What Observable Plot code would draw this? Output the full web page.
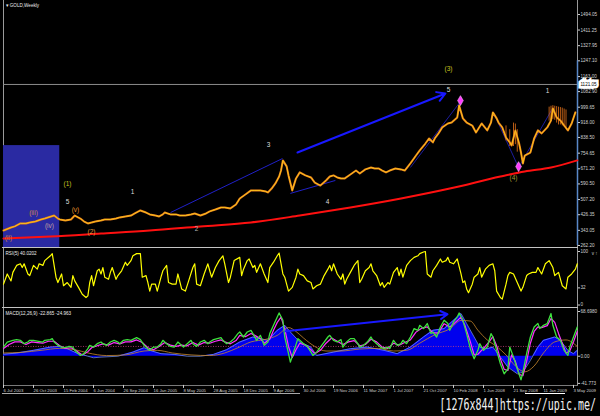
<!DOCTYPE html>
<html><head><meta charset="utf-8">
<script src="https://cdn.jsdelivr.net/npm/d3@7"></script>
<script src="https://cdn.jsdelivr.net/npm/@observablehq/plot@0.6"></script>
<style>
html,body{margin:0;padding:0;background:#000;}
#chart{position:relative;width:600px;height:416px;background:#000;overflow:hidden;font-family:"Liberation Sans",sans-serif;}
.ln{position:absolute;}
#wm{position:absolute;right:4px;top:396px;font:10px "DejaVu Sans Mono",monospace;color:#f2f2f2;transform:scaleY(1.5);transform-origin:top right;white-space:nowrap;}
</style></head><body><div id="chart"></div>
<script>
// ---------- DATA (week index counted from 6 Jul 2003, one bar per week) ----------
const priceWeek = [0,4,6,9,12,14,17,20,22,27,29,30,33,36,38,41,43,45,47,49,52,54,57,60,62,65,68,70,73,76,78,81,83,85,86,89,92,94,97,100,102,105,108,110,113,116,118,121,124,126,129,132,134,137,140,141,143,145,147,148,149,151,152,154,156,158,161,164,166,169,172,174,176,178,180,182,185,188,190,193,196,198,200,202,204,206,209,212,214,217,220,222,225,227,229,230,232,234,237,239,242,243,245,246,247,250,252,255,258,260,261,263,264,266,268,270,271,273,275,276,277,278,281,283,285,287,290,292,293,295,297,299,301,303,305];
const priceClose = [342,358,364,380,380,385,390,401,406,422,406,401,396,401,422,406,390,380,385,390,396,401,401,406,412,417,422,433,449,438,428,422,417,428,438,428,428,422,422,428,433,422,433,444,454,465,465,460,481,513,534,556,556,556,550,545,566,593,630,662,716,684,636,556,620,652,636,625,598,582,609,630,636,625,620,620,641,662,646,668,678,673,673,662,652,662,673,668,662,700,742,769,806,833,812,833,860,892,913,918,945,1009,940,929,918,902,865,913,876,918,972,940,918,892,838,812,796,876,806,758,700,742,758,833,876,860,892,929,993,945,929,902,876,913,972];

const wickWeek = [268,270,272,273,274,291,292,293,294,295,296,297,298,299,300];
const wickHigh = [900,880,915,910,880,1000,1005,1008,1005,1003,1000,998,995,990,985];
const wickLow  = [820,790,790,800,760,925,930,935,930,915,905,905,900,895,890];

const maWeek = [0,25,52,78,105,132,158,185,212,238,265,278,292,306];
const maValue = [300,310,326,342,364,385,422,465,513,566,630,657,678,716];

const priceTicks = [262.20,343.05,426.35,507.20,590.50,671.20,754.65,838.50,918.00,999.65,1082.90,1163.00,1247.10,1327.95,1411.25,1494.05];
const hLinePrice = 1121.05;

const rsiWeek = [0,2,4,5,7,9,10,11,13,14,16,18,19,21,22,25,26,28,29,31,32,34,36,37,38,40,42,44,45,46,47,48,50,51,52,53,54,56,57,58,60,61,63,65,66,68,69,71,73,74,76,77,78,79,81,82,84,85,87,88,90,92,93,95,97,99,101,102,103,105,107,109,110,111,113,115,117,118,120,121,123,126,127,128,130,131,133,134,135,137,139,141,142,144,146,147,149,150,152,154,156,157,158,160,162,164,165,167,169,171,173,174,175,176,178,180,181,182,183,185,187,189,190,191,193,195,196,197,199,201,202,203,205,206,208,210,211,212,213,215,217,219,221,222,224,225,226,228,229,231,233,234,236,237,238,240,242,244,245,246,247,248,250,251,253,254,255,257,259,261,262,263,265,266,268,269,270,272,274,276,277,279,280,282,284,285,287,289,291,293,294,296,298,300,301,303,305,306];
const rsiValue = [39,58,45,61,74,77,70,77,58,55,74,67,77,74,83,92,96,52,42,58,36,42,33,55,45,33,20,14,17,42,55,36,64,67,58,70,52,48,61,70,48,55,64,80,74,83,92,96,96,52,55,42,26,39,39,26,52,64,74,42,39,39,58,30,26,48,70,77,39,36,58,77,64,52,70,83,92,77,42,52,83,89,55,67,83,86,70,74,61,77,58,42,70,80,92,97,58,52,26,33,52,67,58,55,45,42,30,36,39,55,67,74,64,77,58,48,58,39,48,61,74,83,42,48,64,70,77,64,55,36,42,33,42,39,61,70,55,67,52,74,83,89,92,96,99,100,58,52,64,74,86,80,83,89,80,77,86,58,42,45,30,23,39,52,58,70,52,67,74,77,64,26,14,11,39,55,61,58,42,26,33,55,58,61,61,70,58,77,83,70,55,61,36,30,52,58,67,77];
const rsiTicks = [0,32,100];

const macdWeek = [0,2,5,7,9,11,13,14,16,18,21,22,25,26,27,29,31,33,35,37,38,41,43,45,46,48,50,52,53,55,57,59,61,62,64,66,68,69,71,73,75,77,78,80,82,84,85,87,89,91,93,94,96,98,100,101,103,105,107,109,110,112,114,116,117,119,121,123,125,126,128,130,132,133,135,137,139,141,142,144,146,147,149,150,152,153,155,157,158,160,162,164,165,167,169,171,173,174,176,178,180,181,183,185,187,189,190,192,194,196,197,199,201,203,205,206,208,210,212,213,215,217,219,221,222,224,226,228,229,231,233,235,237,238,240,242,243,245,247,249,251,253,254,256,258,260,261,263,265,267,269,270,272,274,276,277,279,281,283,285,286,288,290,292,293,295,297,299,301,302,304,306];
const macdFast = [14,21.8,24.4,25.5,24.4,19.3,21.8,24.4,24.4,23.3,21.8,24.4,25.5,27,21.8,16.7,14,13.1,15.1,14,9,1.2,3.9,11.6,16.7,14,19.3,21.8,19.3,16.7,21.8,24.4,21.8,19.3,24.4,25.5,24.4,25.9,28.5,25.5,16.7,11.6,9,14,14,19.3,24.4,19.3,15.1,14,21.8,19.3,14,19.3,24.4,19.3,15.1,21.8,24.4,19.3,21.8,25.5,27,28.5,24.4,19.3,21.8,27,34.7,37.2,29.5,37.2,39.8,34.7,24.4,32.1,16.7,21.8,34.7,47.5,60.3,66.5,55.2,29.5,3.9,-9.1,9,27,24.4,19.3,15.1,6.3,1.2,6.3,14,21.8,29.5,32.1,24.4,21.8,25.5,14,21.8,27,27,19.3,14,16.7,21.8,29.5,24.4,19.3,14,11.6,14,11.6,24.4,16.7,19.3,24.4,19.3,29.5,42.4,39.8,47.5,42.4,50.2,34.7,37.2,29.5,44.9,55.2,50.2,39.8,52.6,60.3,66.5,55.2,34.7,11.6,-3.9,9,19.3,9,14,34.7,29.5,9,-11.6,-27,-19.3,14,-1.4,-19.3,-36.3,-24.5,3.9,29.5,44.9,50.2,42.4,47.5,50.2,65.6,47.5,29.5,24.4,9,1.2,14,29.5,44.9];

const magWeek = [0,3,6,9,12,15,18,21,24,27,30,33,36,39,42,45,47,50,53,56,59,62,65,68,71,74,77,80,83,86,89,92,95,98,101,104,107,110,113,116,118,121,124,126,129,132,134,137,139,142,144,146,148,150,152,154,156,158,161,164,166,169,172,175,178,181,184,187,190,193,196,199,202,205,208,211,214,217,220,223,226,229,232,235,238,241,244,246,249,251,253,256,259,261,263,265,267,269,271,273,275,277,279,281,283,285,287,290,292,294,296,298,300,302,304,306];
const magValue = [12,18,22,22,18,22,21,20,23,23,16,12,13,8,2,7,13,16,19,17,21,19,22,22,25,21,13,10,15,21,17,15,17,16,21,17,21,20,23,25,22,19,24,32,30,35,32,27,20,26,40,52,60,42,15,-2,10,20,17,10,4,9,20,28,23,18,22,24,16,18,26,22,14,12,20,17,21,25,37,43,45,36,36,50,45,52,60,48,22,2,3,12,22,30,16,-4,-20,-22,2,-8,-28,-30,-8,20,38,45,44,47,58,52,35,20,5,8,22,38];

const histWeek = [0,7,16,25,30,34,39,45,48,52,61,69,75,78,84,91,98,105,112,119,126,133,141,146,150,153,158,164,167,176,185,194,203,210,217,224,229,235,240,244,247,251,254,258,261,265,269,274,277,281,285,288,294,297,301,304,306];
const histValue = [3,4.8,9,14,15.1,11.6,4.8,0,-2.4,-1.4,0,6.3,13.1,9,3.9,2.8,0,0,2.8,10,21.8,29.5,24.4,39.8,47.5,37.2,21.8,14,1.2,6.3,11.6,14,9,3.9,14,29.5,39.8,42.4,55.2,65.6,50.2,29.5,14,11.6,14,-1.4,-16.8,-27,-24.5,-6.5,14,24.4,29.5,24.4,9,3.9,9];

const sigWeek = [0,10,20,30,38,45,55,65,75,82,90,100,110,118,125,132,140,146,152,156,160,166,172,180,190,200,208,215,222,230,238,244,249,253,258,263,268,273,278,283,288,294,300,306];
const sigValue = [5,6,9,12,10,5,1,2,8,9,5,2,1,5,13,22,26,32,44,38,28,15,8,8,11,12,8,9,20,33,42,55,54,40,25,15,2,-15,-24,-15,5,22,25,15];

const macdTicks = [-41.773, 0, 68.698];
const macdTickLabels = ["-41.773", "0.00", "68.6980"];
const macdLevel = 15;

const dateTickWeeks = [0,16,32,48,64,80,96,112,128,144,160,176,192,208,224,240,256,272,288,304];
const dateTickLabels = ["6 Jul 2003","26 Oct 2003","15 Feb 2004","6 Jun 2004","26 Sep 2004","16 Jan 2005","8 May 2005","28 Aug 2005","18 Dec 2005","9 Apr 2006","30 Jul 2006","19 Nov 2006","11 Mar 2007","1 Jul 2007","21 Oct 2007","10 Feb 2008","1 Jun 2008","21 Sep 2008","11 Jan 2009","3 May 2009"];

const waveText  = ["(3)","5","1","(4)","3","4","1","2","(1)","5","(2)","(v)","(iii)","(iv)","(ii)"];
const waveWeek  = [237.3,237.3,290.1,272,141.3,172.8,68.8,102.9,34.1,34.1,46.9,38.4,16,24.5,2.7];
const wavePrice = [1206,1094,1084,620,801,497,550,348,593,492,332,454,438,364,305];
const waveColor = ["#c8c020","#dcdcdc","#dcdcdc","#a09a30","#dcdcdc","#dcdcdc","#dcdcdc","#b0b0b0","#c8c020","#dcdcdc","#e09a3a","#e0902a","#d08850","#c0a0a0","#d08040"];

const boxWeeks = [0, 30];
const boxPrices = [251.5, 795];

const thickArrow = {w1: 156.8, p1: 758, w2: 235.7, p2: 1073};
const thinTrends = [{w1: 89.1, p1: 438, w2: 148.8, p2: 726}, {w1: 153, p1: 540, w2: 177, p2: 609}];
const zigzags = [{w1: 217, p1: 678, w2: 243.7, p2: 1030}, {w1: 261.3, p1: 972, w2: 274.7, p2: 678}, {w1: 274.7, p1: 678, w2: 292.8, p2: 993}];
const pivotWeek = [243.7, 274.7];
const pivotPrice = [1035, 683];
const macdArrow = {w1: 150.4, v1: 38.3, w2: 236.8, v2: 64.5};

// ---------- BUILD ----------
const zip = (a, b) => a.map((w, i) => ({w, v: b[i]}));
const price = zip(priceWeek, priceClose);
const ma = zip(maWeek, maValue);
const rsi = zip(rsiWeek, rsiValue);
const fast = zip(macdWeek, macdFast);
const mag = zip(magWeek, magValue);
const hist = zip(histWeek, histValue);
const sig = zip(sigWeek, sigValue);
const wicks = wickWeek.map((w, i) => ({w, hi: wickHigh[i], lo: wickLow[i]}));
const waves = waveText.map((t, i) => ({t, w: waveWeek[i], p: wavePrice[i], c: waveColor[i]}));
const pivots = zip(pivotWeek, pivotPrice);
const labelMap = new Map(dateTickWeeks.map((w, i) => [w, dateTickLabels[i]]));

const xDomain = [0, 306.13];
const baseStyle = {background: "transparent", color: "#d0d0d0", overflow: "visible", fontFamily: "Liberation Sans, Arial, sans-serif"};
const FS = 4.6;
const chart = document.getElementById("chart");
function place(el, top) { el.style.position = "absolute"; el.style.left = "0px"; el.style.top = top + "px"; chart.append(el); }
function line(l, t, w, h, c) { const d = document.createElement("div"); d.className = "ln"; Object.assign(d.style, {left: l + "px", top: t + "px", width: w + "px", height: h + "px", background: c}); chart.append(d); }

// frame decorations
line(3, 0, 1, 385, "#9a9a9a");
line(577, 0, 1, 385, "#9a9a9a");
line(2, 246.5, 576, 1.6, "#c4c4c4");
line(2, 306.5, 576, 1.6, "#c4c4c4");
line(3, 384.5, 575, 1, "#7a7a7a");
line(2, 392.5, 298, 1.6, "#a8a8a8");
line(525, 392.5, 40, 1.6, "#ffffff");

// price panel
place(Plot.plot({
  width: 600, height: 247, marginLeft: 3, marginRight: 23, marginTop: 0, marginBottom: 0,
  style: baseStyle,
  x: {domain: xDomain, axis: null},
  y: {domain: [251.5, 1568.8], axis: null},
  color: {type: "identity"},
  marks: [
    Plot.rect([0], {x1: () => boxWeeks[0], x2: () => boxWeeks[1], y1: () => boxPrices[0], y2: () => boxPrices[1], fill: "#2a2aa2"}),
    Plot.ruleY([hLinePrice], {stroke: "#8c8c8c", strokeWidth: 1}),
    Plot.ruleX([xDomain[1]], {y1: priceTicks[0], y2: priceTicks[12], stroke: "#5a88c8", strokeWidth: 1.5}),
    Plot.line(ma, {x: "w", y: "v", stroke: "#ff1010", strokeWidth: 2, curve: "monotone-x"}),
    Plot.link(thinTrends, {x1: "w1", y1: "p1", x2: "w2", y2: "p2", stroke: "#2020c8", strokeWidth: 1}),
    Plot.link(zigzags, {x1: "w1", y1: "p1", x2: "w2", y2: "p2", stroke: "#1c1c9c", strokeWidth: 1}),
    Plot.arrow([thickArrow], {x1: "w1", y1: "p1", x2: "w2", y2: "p2", stroke: "#1818ff", strokeWidth: 2, headLength: 7}),
    Plot.ruleX(wicks, {x: "w", y1: "lo", y2: "hi", stroke: "#e8741a", strokeWidth: 0.8}),
    Plot.line(price, {x: "w", y: "v", stroke: "#e47a1c", strokeWidth: 2}),
    Plot.line(price, {x: "w", y: "v", stroke: "#ffd21a", strokeWidth: 0.8}),
    Plot.dot(pivots, {x: "w", y: "v", symbol: "diamond", r: 3, fill: "#ff3cff", stroke: "#ffb0ff", strokeWidth: 0.6}),
    Plot.text(waves, {x: "w", y: "p", text: "t", fill: "c", fontSize: 6.5}),
    Plot.axisY({anchor: "right", ticks: priceTicks, tickFormat: d => d.toFixed(2), tickSize: 2, tickPadding: 1, fontSize: FS, color: "#d0d0d0"}),
    Plot.text([hLinePrice], {y: d => d, frameAnchor: "right", dx: 11, text: d => d.toFixed(2), fill: "#000", stroke: "#fff", strokeWidth: 5, strokeLinejoin: "miter", fontSize: FS, textAnchor: "middle"}),
    Plot.text(["\u25BE GOLD,Weekly"], {frameAnchor: "top-left", dx: 2, dy: 3, textAnchor: "start", lineAnchor: "top", fontSize: FS, fill: "#ececec"})
  ]
}), 0);

// RSI panel
place(Plot.plot({
  width: 600, height: 58, marginLeft: 3, marginRight: 23, marginTop: 3, marginBottom: 1.5,
  style: baseStyle,
  x: {domain: xDomain, axis: null},
  y: {domain: [0, 100], axis: null},
  marks: [
    Plot.line(rsi, {x: "w", y: "v", stroke: "#ffff00", strokeWidth: 1.2}),
    Plot.axisY({anchor: "right", ticks: rsiTicks, tickSize: 2, tickPadding: 1, fontSize: FS, color: "#d0d0d0"}),
    Plot.text(["RSI(5) 40.0202"], {frameAnchor: "top-left", dx: 2, dy: 0, textAnchor: "start", lineAnchor: "top", fontSize: FS, fill: "#ececec"})
  ]
}), 248);

// MACD panel (with date axis)
place(Plot.plot({
  width: 600, height: 92, marginLeft: 3, marginRight: 23, marginTop: 3, marginBottom: 17.1,
  style: baseStyle,
  x: {domain: xDomain, axis: null},
  y: {domain: [macdTicks[0], macdTicks[2]], axis: null},
  marks: [
    Plot.areaY(hist, {x: "w", y: "v", fill: "#0000ee"}),
    Plot.line(hist, {x: "w", y: "v", stroke: "#7d9cff", strokeWidth: 0.7}),
    Plot.ruleY([macdLevel], {stroke: "#c8407a", strokeWidth: 0.8, strokeDasharray: "1,1.5"}),
    Plot.line(sig, {x: "w", y: "v", stroke: "#c8882c", strokeWidth: 0.8, curve: "monotone-x"}),
    Plot.line(mag, {x: "w", y: "v", stroke: "#ff30ff", strokeWidth: 1.2}),
    Plot.line(fast, {x: "w", y: "v", stroke: "#3ee03e", strokeWidth: 1.3}),
    Plot.arrow([macdArrow], {x1: "w1", y1: "v1", x2: "w2", y2: "v2", stroke: "#1818ff", strokeWidth: 2, headLength: 6}),
    Plot.axisY({anchor: "right", ticks: macdTicks, tickFormat: d => macdTickLabels[macdTicks.indexOf(d)], tickSize: 2, tickPadding: 1, fontSize: FS, color: "#d0d0d0"}),
    Plot.axisX({anchor: "bottom", ticks: dateTickWeeks, tickFormat: w => labelMap.get(w), tickSize: 3, tickPadding: 1, dy: 2, textAnchor: "start", fontSize: 4.3, color: "#d0d0d0"}),
    Plot.text(["MACD(12,26,9) -22.865 -24.963"], {frameAnchor: "top-left", dx: 2, dy: 0, textAnchor: "start", lineAnchor: "top", fontSize: FS, fill: "#ececec"})
  ]
}), 308);

const wm = document.createElement("div");
wm.id = "wm";
wm.textContent = "[1276x844]https://upic.me/";
chart.append(wm);
</script></body></html>
